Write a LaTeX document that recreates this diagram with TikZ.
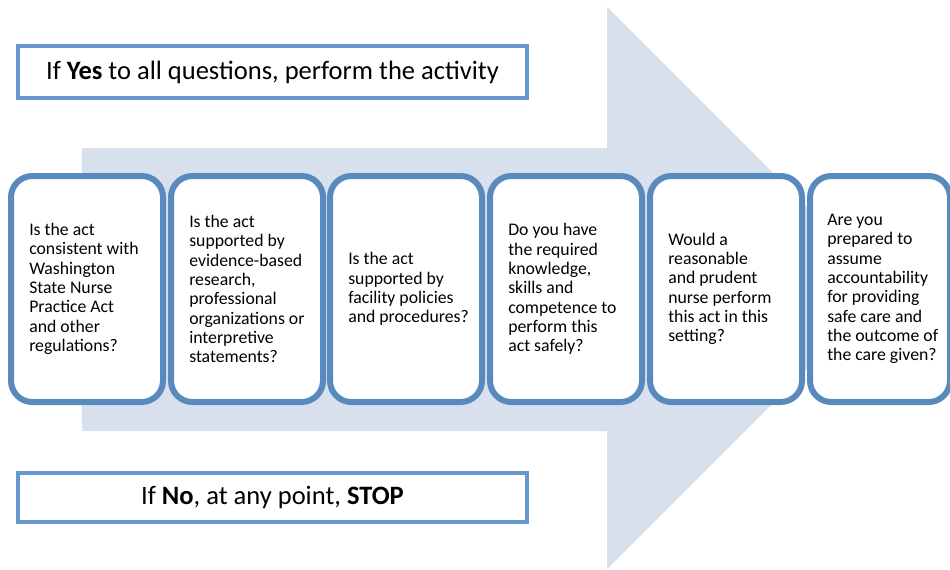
\documentclass[tikz,border=0pt]{standalone}
\usepackage{fontspec}
\setmainfont{Carlito}
\definecolor{boxblue}{RGB}{88,138,190}
\definecolor{bannerblue}{RGB}{104,152,206}
\definecolor{arrowfill}{RGB}{217,224,237}
\begin{document}
\begin{tikzpicture}[x=0.75pt,y=-0.75pt,
  qbox/.style={draw=boxblue, fill=white, line width=4.5pt, rounded corners=16pt,
    minimum width=114pt, minimum height=169.5pt, inner sep=0pt},
  qtext/.style={anchor=west, align=left, inner sep=0pt, font=\fontsize{13.3}{14.5}\selectfont},
  banner/.style={draw=bannerblue, fill=white, line width=3pt,
    minimum width=381.75pt, inner sep=0pt, font=\fontsize{19.9}{23}\selectfont}]
\useasboundingbox (0,0) rectangle (950,569);
% big background arrow
\fill[arrowfill] (82,148) -- (607,148) -- (607,7) -- (888,288) -- (607,569)
  -- (607,431) -- (82,431) -- cycle;
% banners
\node[banner, minimum height=39pt] (yes) at (272.5,72)
  {If \textbf{Yes} to all questions, perform the activity};
\node[banner, minimum height=36.75pt] (no) at (272.5,497.5)
  {If \textbf{No}, at any point, \textbf{STOP}};
% question boxes
\node[qbox] (q1) at (87,289) {};
\node[qbox] (q2) at (247,289) {};
\node[qbox] (q3) at (406,289) {};
\node[qbox] (q4) at (566,289) {};
\node[qbox] (q5) at (726,289) {};
\node[qbox, minimum width=105pt] (q6) at (880,289) {};
\node[qtext] (t1) at ([xshift=15.75pt]q1.west)
  {Is the act\\consistent with\\Washington\\State Nurse\\Practice Act\\and other\\regulations?};
\node[qtext] (t2) at ([xshift=15.75pt]q2.west)
  {Is the act\\supported by\\evidence-based\\research,\\professional\\organizations or\\interpretive\\statements?};
\node[qtext] (t3) at ([xshift=15.75pt]q3.west)
  {Is the act\\supported by\\facility policies\\and procedures?};
\node[qtext] (t4) at ([xshift=15.75pt]q4.west)
  {Do you have\\the required\\knowledge,\\skills and\\competence to\\perform this\\act safely?};
\node[qtext] (t5) at ([xshift=15.75pt]q5.west)
  {Would a\\reasonable\\and prudent\\nurse perform\\this act in this\\setting?};
\node[qtext] (t6) at ([xshift=15pt]q6.west)
  {Are you\\prepared to\\assume\\accountability\\for providing\\safe care and\\the outcome of\\the care given?};
\end{tikzpicture}
\end{document}
